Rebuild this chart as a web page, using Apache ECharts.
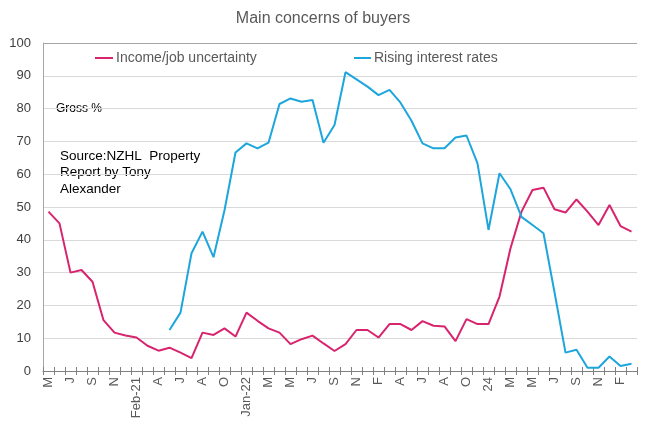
<!DOCTYPE html>
<html>
<head>
<meta charset="utf-8">
<script src="https://cdn.jsdelivr.net/npm/echarts@6/dist/echarts.min.js"></script>
<style>
html,body{margin:0;padding:0;background:#fff;}
#chart{width:646px;height:428px;}
</style>
</head>
<body>
<div id="chart"></div>
<script>
// month labels, only every second one is shown (like the excel axis)
var months = ['M','Jun','J','Aug','S','Oct','N','Dec','Feb-21','Mar','A','May','J','Jul','A','Sep','O','Nov','Jan-22','Feb',
    'M','Apr','M','Jun','J','Aug','S','Oct','N','Dec','F','Mar','A','May','J','Jul','A','Sep','O','Nov',
    '24','Feb','M','Apr','M','Jun','J','Aug','S','Oct','N','Dec','F','Mar'];

var incomeJob = [48.6, 45.0, 30.0, 30.8, 27.2, 15.5, 11.7, 10.8, 10.2, 7.7, 6.2, 7.1, 5.6, 3.9, 11.7, 11.0, 13.0, 10.5, 17.8, 15.3,
    13.0, 11.7, 8.2, 9.7, 10.8, 8.4, 6.1, 8.2, 12.5, 12.5, 10.2, 14.3, 14.3, 12.5, 15.2, 13.8, 13.6, 9.1, 15.8, 14.3,
    14.3, 22.7, 37.4, 48.6, 55.2, 55.9, 49.3, 48.3, 52.3, 48.6, 44.5, 50.6, 44.2, 42.5];

var risingRates = [null, null, null, null, null, null, null, null, null, null, null, 12.5, 17.8, 35.9, 42.5, 34.7, 49.0, 66.6, 69.4, 67.9,
    69.6, 81.4, 83.1, 82.1, 82.6, 69.6, 75.0, 91.1, 88.9, 86.7, 84.1, 85.7, 81.8, 76.3, 69.4, 67.9, 67.9, 71.2, 71.8, 63.3,
    43.0, 60.3, 55.4, 47.0, 44.5, 42.0, 24.0, 5.6, 6.5, 1.0, 1.0, 4.4, 1.5, 2.2];

var yTicks = [0, 10, 20, 30, 40, 50, 60, 70, 80, 90, 100];

var pink = '#d8246f';
var blue = '#1da6dc';
var font = 'Liberation Sans, Arial, sans-serif';

var chart = echarts.init(document.getElementById('chart'));

var gridCols = [];
for (var i = 0; i < yTicks.length; i++) {
    gridCols.push(i == yTicks.length - 1 ? '#a6a6a6' : '#d9d9d9');
}

option = {
    animation: false,
    textStyle: {fontFamily: font},
    title: {
        text: 'Main concerns of buyers',
        left: 'center',
        top: 6,
        textStyle: {fontSize: 16, fontWeight: 'normal', color: '#595959', fontFamily: font}
    },
    legend: [
        {
            data: ['Income/job uncertainty'],
            left: 95, top: 51, padding: 0,
            icon: 'rect', itemWidth: 18, itemHeight: 2,
            textStyle: {fontSize: 14, color: '#595959', padding: [0, 0, 0, -2]}
        },
        {
            data: ['Rising interest rates'],
            left: 354, top: 51, padding: 0,
            icon: 'rect', itemWidth: 17, itemHeight: 2,
            textStyle: {fontSize: 14, color: '#595959', padding: [0, 0, 0, -2]}
        }
    ],
    graphic: [
        {
            type: 'text', left: 56, top: 103,
            style: {text: 'Gross %', fontSize: 12, fill: '#000', fontFamily: font}
        },
        {
            type: 'text', left: 60, top: 148,
            style: {text: 'Source:NZHL  Property\nReport by Tony\nAlexander', fontSize: 13.5, lineHeight: 16.5, fill: '#000', fontFamily: font}
        }
    ],
    grid: {left: 43, right: 9, top: 43, bottom: 57},
    xAxis: [
        {
            type: 'category',
            data: months,
            boundaryGap: true,
            axisLine: {lineStyle: {color: '#808080', width: 1}},
            axisTick: {show: true, interval: 0, length: 4, lineStyle: {color: '#808080'}},
            axisLabel: {interval: 1, rotate: 90, margin: 6, fontSize: 13, color: '#595959', fontFamily: font}
        },
        {
            // ticks that go up through the axis line
            type: 'category',
            data: months,
            position: 'bottom',
            boundaryGap: true,
            axisLine: {show: false},
            axisTick: {show: true, inside: true, interval: 0, length: 4, lineStyle: {color: '#808080'}},
            axisLabel: {show: false}
        }
    ],
    yAxis: {
        type: 'value',
        min: 0, max: 100, interval: 10,
        axisLine: {show: true, lineStyle: {color: '#a6a6a6'}},
        axisTick: {show: false},
        axisLabel: {fontSize: 13, color: '#404040', margin: 12, fontFamily: font},
        splitLine: {lineStyle: {color: gridCols, width: 1}}
    },
    series: [
        {
            name: 'Income/job uncertainty',
            type: 'line',
            data: incomeJob,
            showSymbol: false,
            symbol: 'none',
            lineStyle: {color: pink, width: 2},
            itemStyle: {color: pink}
        },
        {
            name: 'Rising interest rates',
            type: 'line',
            data: risingRates,
            showSymbol: false,
            symbol: 'none',
            connectNulls: false,
            lineStyle: {color: blue, width: 2},
            itemStyle: {color: blue}
        }
    ]
};
chart.setOption(option);
</script>
</body>
</html>
